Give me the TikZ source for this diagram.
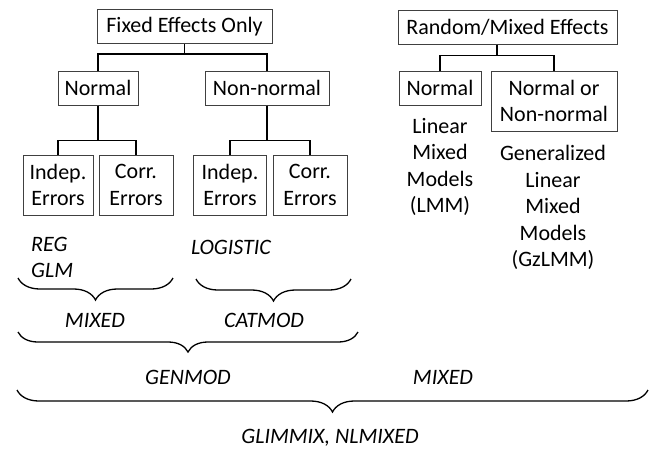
\documentclass[tikz,border=0pt]{standalone}
\usepackage{fontspec}
\setmainfont{Carlito}
\usetikzlibrary{calc}
\usetikzlibrary{positioning}
\usetikzlibrary{decorations.pathreplacing}
\newcommand{\dfont}{\fontsize{22}{26.5}\selectfont}
\tikzstyle{box} = [
    rectangle,
    draw=black!75,
    line width=1pt,
    minimum height=34pt,
    inner xsep=6pt,
    inner ysep=4pt,
    align=center
]
\tikzstyle{twoline} = [box, minimum height=60pt]
\tikzstyle{link}  = [
    draw,
    line width=1.6pt
]
\tikzstyle{proc}  = [font=\dfont\itshape, inner sep=0pt]
\tikzstyle{brc}   = [
    decorate,
    decoration={brace, mirror, amplitude=22pt},
    line width=1.3pt
]

\begin{document}
\begin{tikzpicture}[x=1pt, y=-1pt, font=\dfont]

\useasboundingbox (0,0) rectangle (651,450);

\node[box, minimum width=175pt] (fixed) at (184.5,26.5) {Fixed Effects Only};
\node[box, minimum width=80pt] (normal) at (98,88)      {Normal};
\node[box, minimum width=124pt] (nonnormal) at (267,88) {Non-normal};

\node[twoline, minimum width=70pt] (indepA) at (58,185)  {Indep.\\Errors};
\node[twoline, minimum width=74pt] (corrA)  at (136,185) {Corr.\\Errors};
\node[twoline, minimum width=73pt] (indepB) at (230,185) {Indep.\\Errors};
\node[twoline, minimum width=74pt] (corrB)  at (310,185) {Corr.\\Errors};

\node[box, minimum width=219pt] (random) at (507.5,27) {Random/Mixed Effects};
\node[box, minimum width=82pt] (rnormal) at (440,88)   {Normal};
\node[twoline, minimum width=126pt] (rgen) at (554,101) {Normal or\\Non-normal};

\node[align=center] (lmm)   at (440,167)   {Linear\\Mixed\\Models\\(LMM)};
\node[align=center] (gzlmm) at (553,207.5) {Generalized\\Linear\\Mixed\\Models\\(GzLMM)};

% procedures
\node[proc, align=left, anchor=west] (reg) at (31,257.5) {REG\\GLM};
\node[proc] (logistic) at (231,247) {LOGISTIC};
\node[proc] (mixedA)   at (95,320)  {MIXED};
\node[proc] (catmod)   at (264,320) {CATMOD};
\node[proc] (genmod)   at (188,377) {GENMOD};
\node[proc] (mixedB)   at (443,377) {MIXED};
\node[proc] (glimmix)  at (330,438) {GLIMMIX, NLMIXED};

% tree connectors
\draw[link] (fixed.south) -- ++(0,10) -| (normal.north);
\draw[link] (fixed.south) -- ++(0,10) -| (nonnormal.north);
\draw[link] (normal.south) -- ++(0,35) -| (indepA.north);
\draw[link] (normal.south) -- ++(0,35) -| (corrA.north);
\draw[link] (nonnormal.south) -- ++(0,35) -| (indepB.north);
\draw[link] (nonnormal.south) -- ++(0,35) -| (corrB.north);

\coordinate (rbar) at ($(rnormal.north)!0.5!(rgen.north)$);
\draw[link] (rbar |- random.south) -- ++(0,11) -| (rnormal.north);
\draw[link] (rbar |- random.south) -- ++(0,11) -| (rgen.north);

% braces
\coordinate (b1l) at (18,278);
\coordinate (b1r) at (173,278);
\coordinate (b2l) at (196,279);
\coordinate (b2r) at (351,279);
\coordinate (b3l) at (18,332);
\coordinate (b3r) at (358,332);
\coordinate (b4l) at (17,390);
\coordinate (b4r) at (648,390);

\draw[brc] (b1l) -- (b1r);
\draw[brc] (b2l) -- (b2r);
\draw[brc, decoration={amplitude=20pt}] (b3l) -- (b3r);
\draw[brc] (b4l) -- (b4r);

\end{tikzpicture}
\end{document}
